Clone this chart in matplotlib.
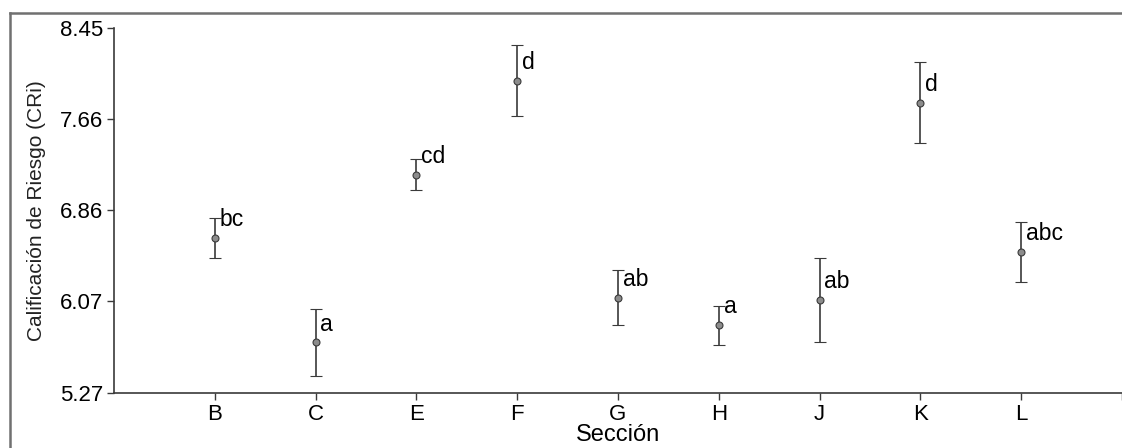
import matplotlib
matplotlib.use("Agg")
import matplotlib.pyplot as plt
from matplotlib.lines import Line2D

plt.rcParams['font.family'] = ['Liberation Sans', 'DejaVu Sans']

secciones = ["B", "C", "E", "F", "G", "H", "J", "K", "L"]
medias = [6.62, 5.71, 7.17, 7.99, 6.10, 5.86, 6.08, 7.80, 6.50]
errores = [0.175, 0.295, 0.135, 0.31, 0.24, 0.172, 0.366, 0.35, 0.26]
letras = ["bc", "a", "cd", "d", "ab", "a", "ab", "d", "abc"]
yticks = [5.27, 6.07, 6.86, 7.66, 8.45]

fig = plt.figure(figsize=(11.22, 4.48), dpi=100)
ax = fig.add_axes([114 / 1122, 1 - 393 / 448, 1 - 114 / 1122, (393 - 28) / 448])

x = list(range(1, len(secciones) + 1))
ax.errorbar(x, medias, yerr=errores, fmt='o', color='#3a3a3a', ecolor='#3a3a3a',
            elinewidth=1.2, capsize=4, capthick=1.0, markersize=5,
            markerfacecolor='#8c8c8c', markeredgecolor='#3a3a3a', markeredgewidth=0.8)

for xi, m, l in zip(x, medias, letras):
    ax.annotate(l, (xi, m), xytext=(3.5, 5), textcoords='offset points',
                ha='left', va='bottom', fontsize=16.5)

ax.set_xlim(0, 10)
ax.set_ylim(5.27, 8.45)
ax.set_xticks(list(range(1, 11)))
ax.set_xticklabels(secciones + [""], fontsize=16)
ax.set_yticks(yticks)
ax.set_yticklabels(["%.2f" % v for v in yticks], fontsize=16)
ax.tick_params(length=5, width=1, color='#3a3a3a', pad=3)
ax.set_xlabel("Sección", fontsize=17, labelpad=-1)
ax.set_ylabel("Calificación de Riesgo (CRi)", fontsize=15, color='#222222', labelpad=10)

for s in ['top', 'right']:
    ax.spines[s].set_visible(False)
for s in ['left', 'bottom']:
    ax.spines[s].set_color('#3a3a3a')
    ax.spines[s].set_linewidth(1.2)

# marco exterior
fig.add_artist(Line2D([10 / 1122, 10 / 1122], [0, 1 - 13 / 448], transform=fig.transFigure,
                      color='#707070', lw=1.8))
fig.add_artist(Line2D([10 / 1122, 1], [1 - 13 / 448, 1 - 13 / 448], transform=fig.transFigure,
                      color='#707070', lw=1.8))

fig.savefig("out.png", dpi=100)
